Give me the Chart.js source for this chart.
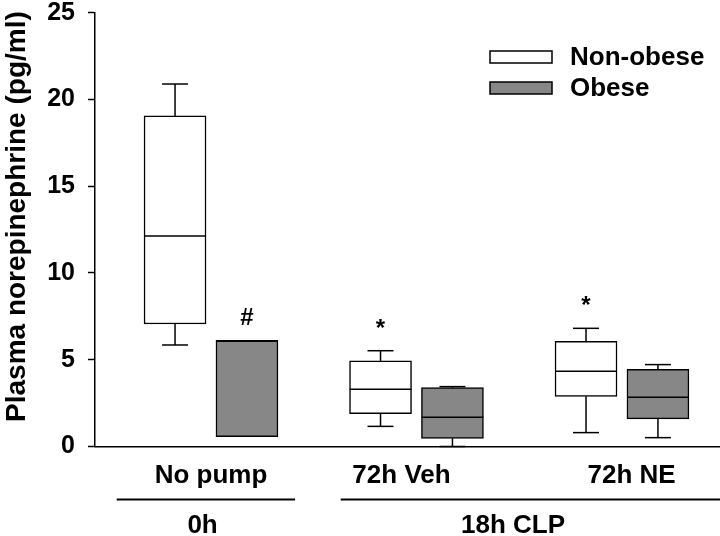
<!DOCTYPE html>
<html>
<head>
<meta charset="utf-8">
<script src="https://cdn.jsdelivr.net/npm/chart.js@4.4.1/dist/chart.umd.min.js"></script>
<style>
  html, body { margin: 0; padding: 0; background: #fff; }
  #wrap { width: 720px; height: 536px; }
</style>
</head>
<body>
<div id="wrap"><canvas id="chart"></canvas></div>
<script>
// Groups along the x axis
const groups = ['No pump', '72h Veh', '72h NE']
const timeLabels = ['0h', '18h CLP']
const seriesNames = ['Non-obese', 'Obese']
const yTitle = 'Plasma norepinephrine (pg/ml)'

// Box statistics (pg/ml)
const nonObeseMin = [5.85, 1.16, 0.80]
const nonObeseQ1 = [7.06, 1.89, 2.89]
const nonObeseMedian = [12.13, 3.30, 4.33]
const nonObeseQ3 = [19.05, 4.93, 6.06]
const nonObeseMax = [20.89, 5.52, 6.81]

const obeseMin = [0.56, 0.0, 0.51]
const obeseQ1 = [0.56, 0.47, 1.59]
const obeseMedian = [6.06, 1.68, 2.84]
const obeseQ3 = [6.12, 3.39, 4.45]
const obeseMax = [6.12, 3.45, 4.72]

// significance marks above each box
const nonObeseMarks = ['', '*', '*']
const obeseMarks = ['#', '', '']

const yTicks = [0, 5, 10, 15, 20, 25]

// layout (x in axis units, group i sits at i + 1)
const boxShift = 0.175
const labelShift = [0, -0.073, 0.047]
const timeSpans = [[0.541, 1.409], [1.631, 3.477]]
const timeCenters = [0.959, 2.47]

const FONT = "'Liberation Sans', Arial, sans-serif"
const stats = [
  { min: nonObeseMin, q1: nonObeseQ1, med: nonObeseMedian, q3: nonObeseQ3, max: nonObeseMax, marks: nonObeseMarks },
  { min: obeseMin, q1: obeseQ1, med: obeseMedian, q3: obeseQ3, max: obeseMax, marks: obeseMarks }
]

const line = (ctx, x1, y1, x2, y2) => {
  ctx.beginPath()
  ctx.moveTo(x1, y1)
  ctx.lineTo(x2, y2)
  ctx.stroke()
}

// whiskers, medians and marks on top of the floating bars
const whiskerPlugin = {
  id: 'whiskers',
  afterDatasetsDraw(chart) {
    const { ctx } = chart
    const y = chart.scales.y
    ctx.save()
    ctx.strokeStyle = '#000'
    ctx.lineWidth = 1.5
    stats.forEach((st, di) => {
      chart.getDatasetMeta(di).data.forEach((bar, i) => {
        const x = bar.x
        const half = bar.width / 2
        const cap = 13
        const pMin = y.getPixelForValue(st.min[i])
        const pQ1 = y.getPixelForValue(st.q1[i])
        const pMed = y.getPixelForValue(st.med[i])
        const pQ3 = y.getPixelForValue(st.q3[i])
        const pMax = y.getPixelForValue(st.max[i])
        line(ctx, x - half, pMed, x + half, pMed)
        if (st.max[i] > st.q3[i]) {
          line(ctx, x, pQ3, x, pMax)
          line(ctx, x - cap, pMax, x + cap, pMax)
        }
        if (st.min[i] < st.q1[i]) {
          line(ctx, x, pQ1, x, pMin)
          line(ctx, x - cap, pMin, x + cap, pMin)
        }
        if (st.marks[i]) {
          ctx.fillStyle = '#000'
          ctx.font = 'bold 24px ' + FONT
          ctx.textAlign = 'center'
          ctx.textBaseline = 'alphabetic'
          ctx.fillText(st.marks[i], x, pMax - 15)
        }
      })
    })
    ctx.restore()
  }
}

// axis title, group labels, time brackets and the legend
const labelPlugin = {
  id: 'labels',
  afterDraw(chart) {
    const { ctx, chartArea } = chart
    const xs = chart.scales.x
    const bottom = chartArea.bottom
    ctx.save()
    ctx.fillStyle = '#000'
    ctx.strokeStyle = '#000'

    // y title, sits a little above the axis centre
    ctx.save()
    ctx.translate(17, (chartArea.top + bottom) / 2 - 13)
    ctx.rotate(-Math.PI / 2)
    ctx.font = 'bold 28px ' + FONT
    ctx.textAlign = 'center'
    ctx.textBaseline = 'middle'
    ctx.fillText(yTitle, 0, 0)
    ctx.restore()

    ctx.font = 'bold 26px ' + FONT
    ctx.textAlign = 'center'
    ctx.textBaseline = 'alphabetic'
    groups.forEach((g, i) => {
      ctx.fillText(g, xs.getPixelForValue(i + 1 + labelShift[i]), bottom + 36)
    })
    ctx.lineWidth = 2
    timeLabels.forEach((t, i) => {
      line(ctx, xs.getPixelForValue(timeSpans[i][0]), bottom + 53,
        xs.getPixelForValue(timeSpans[i][1]), bottom + 53)
      ctx.fillText(t, xs.getPixelForValue(timeCenters[i]), bottom + 86.5)
    })

    // legend
    ctx.lineWidth = 1.5
    ctx.textAlign = 'left'
    ctx.textBaseline = 'middle'
    chart.data.datasets.forEach((ds, i) => {
      const cy = 57 + i * 31
      const bx = chartArea.right - 230
      ctx.fillStyle = ds.backgroundColor
      ctx.fillRect(bx, cy - 6, 62, 12)
      ctx.strokeRect(bx, cy - 6, 62, 12)
      ctx.fillStyle = '#000'
      ctx.fillText(ds.label, chartArea.right - 150, cy + 1)
    })
    ctx.restore()
  }
}

const fills = ['#ffffff', '#878787']

new Chart(document.getElementById('chart'), {
  type: 'bar',
  data: {
    datasets: stats.map((st, di) => ({
      label: seriesNames[di],
      data: groups.map((g, i) => ({
        x: i + 1 + (di === 0 ? -boxShift : boxShift),
        y: [st.q1[i], st.q3[i]]
      })),
      backgroundColor: fills[di],
      borderColor: '#000',
      borderWidth: 1.5,
      borderSkipped: false,
      grouped: false,
      barThickness: 62
    }))
  },
  options: {
    responsive: true,
    maintainAspectRatio: false,
    animation: false,
    layout: { padding: { top: 12.7, left: 0, right: 0, bottom: 0 } },
    plugins: {
      legend: { display: false },
      tooltip: { enabled: false }
    },
    scales: {
      x: {
        type: 'linear',
        offset: false,
        min: 0.4355,
        max: 3.477,
        grid: { display: false, offset: false },
        ticks: { display: false },
        border: { display: true, color: '#000', width: 1.5 },
        afterFit: (s) => { s.height = 89.5 }
      },
      y: {
        min: 0,
        max: 25,
        afterBuildTicks: (s) => { s.ticks = yTicks.map(v => ({ value: v })) },
        grid: { drawOnChartArea: false, drawTicks: true, tickLength: 7, tickColor: '#000', tickWidth: 1.5 },
        border: { display: true, color: '#000', width: 1.5 },
        ticks: {
          color: '#000',
          padding: 13,
          font: { family: FONT, size: 25, weight: 'bold', lineHeight: 1.0 }
        },
        afterFit: (s) => {
          s.width = 95
          s.paddingTop = 0
          s.paddingBottom = 0
        }
      }
    }
  },
  plugins: [whiskerPlugin, labelPlugin]
})
</script>
</body>
</html>
